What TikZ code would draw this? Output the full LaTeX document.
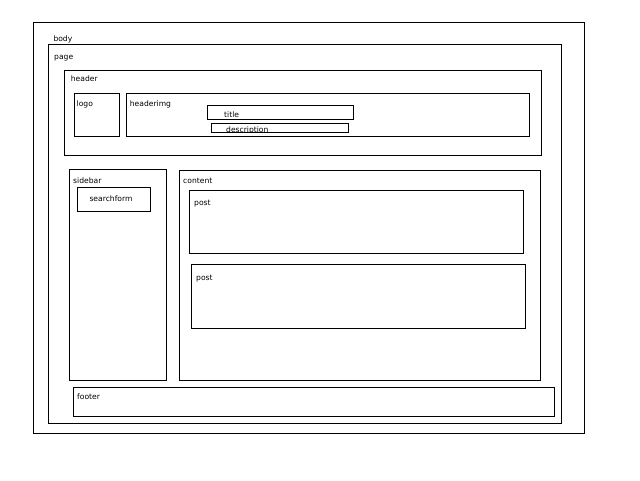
\documentclass[tikz,border=0pt]{standalone}
\usepackage{fontspec}
\setmainfont{DejaVu Sans}
\usetikzlibrary{fit}
\begin{document}
\begin{tikzpicture}[x=1pt,y=-1pt,
  box/.style={draw=black,line width=1pt,inner sep=0pt,outer sep=0pt,rectangle},
  lbl/.style={anchor=base west,inner sep=0pt,font=\fontsize{7.6}{8}\selectfont}]
\useasboundingbox[fill=white] (0,0) rectangle (640,480);
% boxes
\node[box,fit={(33.3,22.5) (584.3,433.7)}] (body) {};
\node[box,fit={(48.7,44.3) (561.3,423)}] (page) {};
\node[box,fit={(64.3,70.5) (541.3,155.3)}] (header) {};
\node[box,fit={(74.3,93.3) (119.3,136.3)}] (logo) {};
\node[box,fit={(126.3,93.3) (529.3,136.3)}] (headerimg) {};
\node[box,fit={(207.5,105.3) (353.3,119)}] (title) {};
\node[box,fit={(211.2,123) (348,132.5)}] (description) {};
\node[box,fit={(69.3,169.3) (166,380.7)}] (sidebar) {};
\node[box,fit={(77.3,187.7) (150,211.7)}] (searchform) {};
\node[box,fit={(179,170.3) (540.3,380.3)}] (content) {};
\node[box,fit={(189.3,190.5) (523.3,253)}] (post1) {};
\node[box,fit={(191.3,264.3) (525.3,328.3)}] (post2) {};
\node[box,fit={(73,387) (554.3,416.3)}] (footer) {};
% labels
\node[lbl] (bodylbl) at (53.3,41.5) {body};
\node[lbl] (pagelbl) at (54,59) {page};
\node[lbl] (headerlbl) at (70.7,81) {header};
\node[lbl] (logolbl) at (76.5,106.5) {logo};
\node[lbl] (headerimglbl) at (129.7,106.5) {headerimg};
\node[lbl] (titlelbl) at (224,117.5) {title};
\begin{scope}
\clip (211.2,123) rectangle (348,132.5);
\node[lbl] (descriptionlbl) at (226,132.7) {description};
\end{scope}
\draw[line width=1pt] (description.south west) -- (description.south east);
\node[lbl] (sidebarlbl) at (73,183.3) {sidebar};
\node[lbl] (searchformlbl) at (89.3,201) {searchform};
\node[lbl] (contentlbl) at (183,183.3) {content};
\node[lbl] (post1lbl) at (194,205) {post};
\node[lbl] (post2lbl) at (196,280.5) {post};
\node[lbl] (footerlbl) at (77,399) {footer};
\end{tikzpicture}
\end{document}
